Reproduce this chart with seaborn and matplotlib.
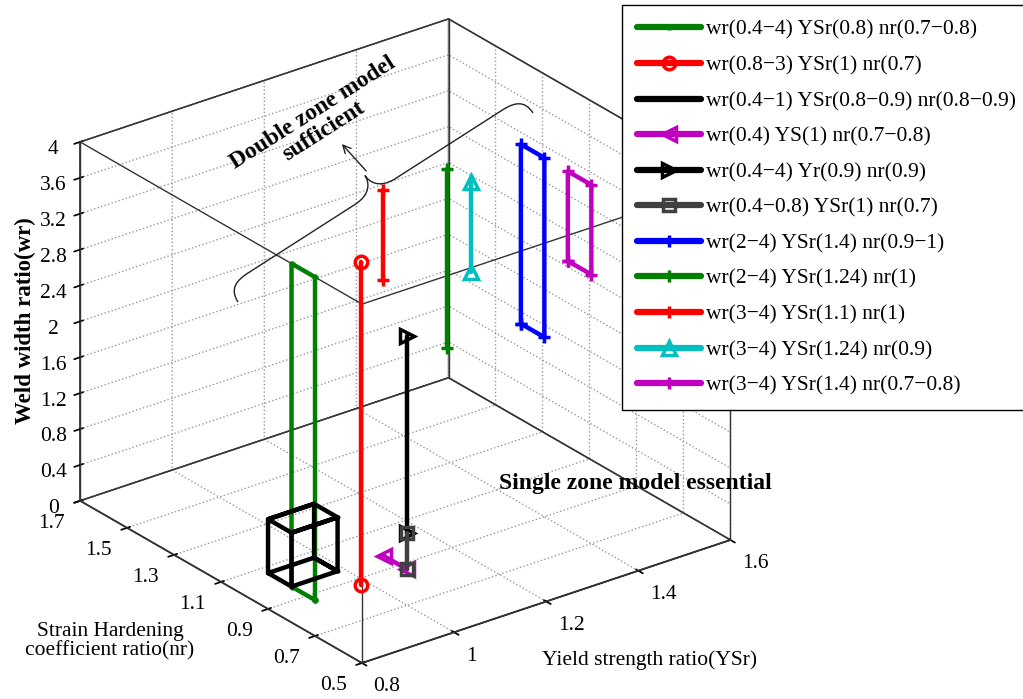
import numpy as np
import matplotlib
matplotlib.use('Agg')
import matplotlib.pyplot as plt
import seaborn as sns
from mpl_toolkits.mplot3d import proj3d
from matplotlib.path import Path
from matplotlib.patches import PathPatch, FancyArrowPatch

sns.set_theme(style='white')
plt.rcParams['font.family'] = ['Liberation Serif', 'DejaVu Serif']
plt.rcParams['grid.linestyle'] = ':'
plt.rcParams['grid.color'] = '#999999'
plt.rcParams['grid.linewidth'] = 1.0
plt.rcParams['axes.unicode_minus'] = True
for k in ('text.color', 'axes.labelcolor', 'xtick.color', 'ytick.color'):
    plt.rcParams[k] = 'black'

# ---------------- axes ----------------
ysr_lim = (0.8, 1.6)
nr_lim = (0.5, 1.7)
wr_lim = (0.0, 4.0)
ysr_ticks = [0.8, 1.0, 1.2, 1.4, 1.6]
ysr_ticklabels = ['0.8', '1', '1.2', '1.4', '1.6']
nr_ticks = [0.5, 0.7, 0.9, 1.1, 1.3, 1.5, 1.7]
nr_ticklabels = ['0.5', '0.7', '0.9', '1.1', '1.3', '1.5', '1.7']
wr_ticks = [0, 0.4, 0.8, 1.2, 1.6, 2, 2.4, 2.8, 3.2, 3.6, 4]
wr_ticklabels = ['0', '0.4', '0.8', '1.2', '1.6', '2', '2.4', '2.8', '3.2', '3.6', '4']

# ---------------- series ----------------
labels = [
    'wr(0.4\u22124) YSr(0.8) nr(0.7\u22120.8)',
    'wr(0.8\u22123) YSr(1) nr(0.7)',
    'wr(0.4\u22121) YSr(0.8\u22120.9) nr(0.8\u22120.9)',
    'wr(0.4) YS(1) nr(0.7\u22120.8)',
    'wr(0.4\u22124) Yr(0.9) nr(0.9)',
    'wr(0.4\u22120.8) YSr(1) nr(0.7)',
    'wr(2\u22124) YSr(1.4) nr(0.9\u22121)',
    'wr(2\u22124) YSr(1.24) nr(1)',
    'wr(3\u22124) YSr(1.1) nr(1)',
    'wr(3\u22124) YSr(1.24) nr(0.9)',
    'wr(3\u22124) YSr(1.4) nr(0.7\u22120.8)',
]
colors = ['#007f00', '#ff0000', '#000000', '#bf00bf', '#000000', '#404040',
          '#0000ff', '#007f00', '#ff0000', '#00bfbf', '#bf00bf']
markers = ['+', 'o', '+', '<', '>', 's', '+', '+', '+', '^', '+']

s1_ysr = [0.8, 0.8, 0.8, 0.8, 0.8]
s1_nr = [0.7, 0.7, 0.8, 0.8, 0.7]
s1_wr = [0.4, 4.0, 4.0, 0.4, 0.4]

s2_ysr = [0.9, 0.9]
s2_nr = [0.7, 0.7]
s2_wr = [0.4, 4.0]

s3_ysr = [0.8, 0.9, 0.9, 0.8, 0.8, 0.8, 0.9, 0.9, 0.8, 0.8, 0.9, 0.9, 0.9, 0.9, 0.8, 0.8]
s3_nr = [0.8, 0.8, 0.9, 0.9, 0.8, 0.8, 0.8, 0.9, 0.9, 0.8, 0.8, 0.8, 0.9, 0.9, 0.9, 0.9]
s3_wr = [0.4, 0.4, 0.4, 0.4, 0.4, 1.0, 1.0, 1.0, 1.0, 1.0, 1.0, 0.4, 0.4, 1.0, 1.0, 0.4]

s4_ysr = [1.0, 1.0]
s4_nr = [0.7, 0.8]
s4_wr = [0.4, 0.4]

s5_ysr = [1.0, 1.0]
s5_nr = [0.7, 0.7]
s5_wr = [0.8, 3.0]

s6_ysr = [1.0, 1.0]
s6_nr = [0.7, 0.7]
s6_wr = [0.4, 0.8]

s7_ysr = [1.4, 1.4, 1.4, 1.4, 1.4]
s7_nr = [1.0, 1.0, 0.9, 0.9, 1.0]
s7_wr = [2.0, 4.0, 4.0, 2.0, 2.0]

s8_ysr = [1.24, 1.24]
s8_nr = [1.0, 1.0]
s8_wr = [2.0, 4.0]

s9_ysr = [1.1, 1.1]
s9_nr = [1.0, 1.0]
s9_wr = [3.0, 4.0]

s10_ysr = [1.24, 1.24]
s10_nr = [0.9, 0.9]
s10_wr = [3.0, 4.0]

s11_ysr = [1.4, 1.4, 1.4, 1.4, 1.4]
s11_nr = [0.8, 0.8, 0.7, 0.7, 0.8]
s11_wr = [3.0, 4.0, 4.0, 3.0, 3.0]

series = [(s1_ysr, s1_nr, s1_wr), (s2_ysr, s2_nr, s2_wr), (s3_ysr, s3_nr, s3_wr),
          (s4_ysr, s4_nr, s4_wr), (s5_ysr, s5_nr, s5_wr), (s6_ysr, s6_nr, s6_wr),
          (s7_ysr, s7_nr, s7_wr), (s8_ysr, s8_nr, s8_wr), (s9_ysr, s9_nr, s9_wr),
          (s10_ysr, s10_nr, s10_wr), (s11_ysr, s11_nr, s11_wr)]
msizes = [4, 9, 2, 10, 10, 9, 9, 9, 9, 10, 9]

W, H = 1023, 699
fig = plt.figure(figsize=(W / 100, H / 100), dpi=100)
ax = fig.add_axes([0.05, 0.05, 0.6, 0.9], projection='3d', proj_type='ortho')
ax.view_init(elev=26, azim=-127.3)
ax.set_box_aspect((1.16, 1.165, 1.0))
ax.computed_zorder = False
ax.set_xlim(*ysr_lim)
ax.set_ylim(*nr_lim)
ax.set_zlim(*wr_lim)
ax.set_xticks(ysr_ticks, ysr_ticklabels)
ax.set_yticks(nr_ticks, nr_ticklabels)
ax.set_zticks(wr_ticks, wr_ticklabels)
ax.tick_params(labelsize=15.5, colors='black')
for a in (ax.xaxis, ax.yaxis, ax.zaxis):
    a.set_pane_color((1, 1, 1, 1))
    a.pane.set_edgecolor('#333333')
    a.line.set_color('#333333')

# full box edges
edge_color = '#333333'
x0, x1 = ysr_lim
y0, y1 = nr_lim
z0, z1 = wr_lim
for yy in (y0, y1):
    for zz in (z0, z1):
        ax.plot([x0, x1], [yy, yy], [zz, zz], color=edge_color, lw=1.0)
for xx in (x0, x1):
    for zz in (z0, z1):
        ax.plot([xx, xx], [y0, y1], [zz, zz], color=edge_color, lw=1.0)
for xx in (x0, x1):
    for yy in (y0, y1):
        ax.plot([xx, xx], [yy, yy], [z0, z1], color=edge_color, lw=1.0)

handles = []
for (xs, ys, zs), c, m, ms, lab in zip(series, colors, markers, msizes, labels):
    ln, = ax.plot(xs, ys, zs, color=c, lw=3.2, marker=m, ms=ms, mew=2.5,
                  mfc='none', mec=c, label=lab)
    handles.append(ln)

# ---- fit the 3D box to the reference framing ----
fig.canvas.draw()

def disp(x, y, z):
    xs, ys, _ = proj3d.proj_transform(x, y, z, ax.M)
    return np.array(ax.transData.transform((xs, ys)))

tA = np.array([362.0, H - 663.0])
tB = np.array([80.0, H - 142.0])
dA = disp(x0, y0, z0)
dB = disp(x0, y1, z1)
pos = ax.get_position()
S0 = pos.width * W
c0 = np.array([(pos.x0 + pos.width / 2) * W, (pos.y0 + pos.height / 2) * H])
S1 = S0 * np.linalg.norm(tA - tB) / np.linalg.norm(dA - dB)
c1 = tA - (S1 / S0) * (dA - c0)
ax.set_position([(c1[0] - S1 / 2) / W, (c1[1] - S1 / 2) / H, S1 / W, S1 / H])

for lab in ax.xaxis.get_ticklabels():
    lab.set_ha('left')
    lab.set_va('center_baseline')
for lab in ax.yaxis.get_ticklabels():
    lab.set_ha('right')
    lab.set_va('center_baseline')

# ---- legend ----
leg = fig.legend(handles=handles, loc='upper left', bbox_to_anchor=(622 / W, 1 - 5 / H),
                 fontsize=15.5, frameon=True, fancybox=False, edgecolor='black',
                 framealpha=1, handlelength=3.0, handletextpad=0.2,
                 labelspacing=0.72, borderpad=0.69, borderaxespad=0)
leg.get_frame().set_linewidth(1.0)
for lh in leg.legend_handles:
    lh.set_linewidth(4.5)

# ---- titles / annotations ----
fig.text(25 / W, 1 - 321 / H, 'Weld width ratio(wr)', rotation=90, fontsize=16.5,
         fontweight='bold', ha='center', va='center')
fig.text(110 / W, 1 - 641 / H, 'Strain Hardening\ncoefficient ratio(nr)', fontsize=15.5,
         ha='center', va='center', linespacing=1.0)
fig.text(650 / W, 1 - 660 / H, 'Yield strength ratio(YSr)', fontsize=15.5,
         ha='center', va='center')
fig.text(635 / W, 1 - 483 / H, 'Single zone model essential', fontsize=17,
         fontweight='bold', ha='center', va='center')
fig.text(318 / W, 1 - 122 / H, 'Double zone model\nsufficient', fontsize=17,
         fontweight='bold', ha='center', va='center', rotation=32.5,
         rotation_mode='anchor', linespacing=1.0)

# curly brace (figure pixel frame): tips at P0 / P1, cusp toward the text
P0 = np.array([238.0, H - 302.0])
P1 = np.array([533.0, H - 113.0])
d = P1 - P0
L = np.linalg.norm(d)
t = d / L
n = np.array([-t[1], t[0]])
h, a = 19.0, 24.0
local = [(0, 0), (0, h * 0.8), (a * 0.4, h), (a, h),
         (L / 2 - a, h), (L / 2 - a * 0.2, h), (L / 2, h * 1.6), (L / 2, 2 * h),
         (L / 2, h * 1.6), (L / 2 + a * 0.2, h), (L / 2 + a, h),
         (L - a, h), (L - a * 0.4, h), (L, h * 0.8), (L, 0)]
pts = [P0 + u * t + v * n for u, v in local]
pts = [(p[0] / W, p[1] / H) for p in pts]
codes = [Path.MOVETO, Path.CURVE4, Path.CURVE4, Path.CURVE4,
         Path.LINETO, Path.CURVE4, Path.CURVE4, Path.CURVE4,
         Path.CURVE4, Path.CURVE4, Path.CURVE4,
         Path.LINETO, Path.CURVE4, Path.CURVE4, Path.CURVE4]
fig.patches.append(PathPatch(Path(pts, codes), transform=fig.transFigure,
                             fill=False, edgecolor='#222222', lw=1.0))
arr = FancyArrowPatch((368 / W, 1 - 173 / H), (340 / W, 1 - 142 / H),
                      transform=fig.transFigure, arrowstyle='->', mutation_scale=14,
                      color='#222222', lw=1.0)
fig.patches.append(arr)

fig.savefig('out.png', dpi=100)
